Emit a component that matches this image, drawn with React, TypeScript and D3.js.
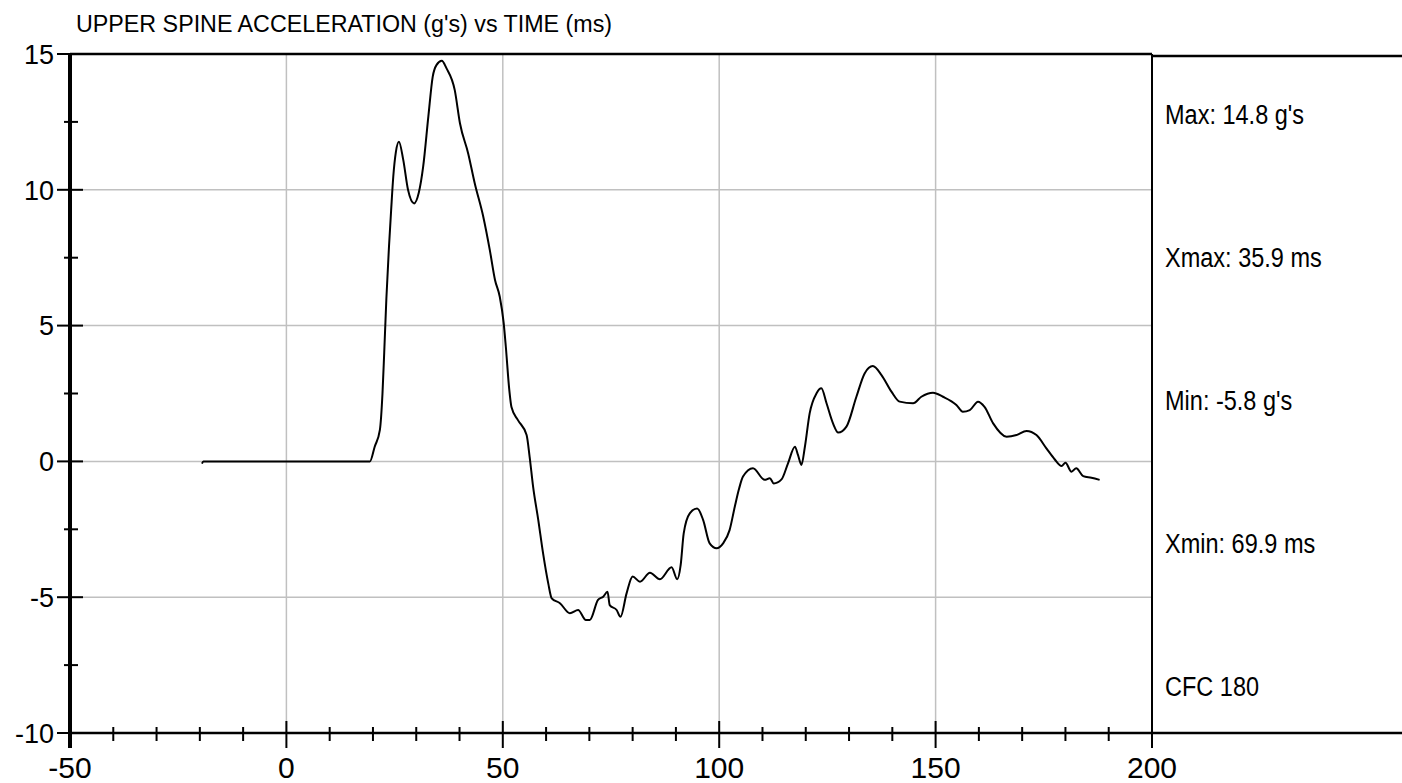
import React, { useEffect, useRef } from 'react';
import * as d3 from 'd3';

// time (ms) and upper spine acceleration (g's)
const timeMs = [
  -19.5, -19.2, 19.3, 20.4, 21.6, 22.2, 22.6, 23.1, 23.7, 24.2, 24.7, 25.3, 26.0,
  27.0, 28.1, 29.5, 30.6, 31.6, 32.8, 33.8, 34.7, 35.9, 37.0, 38.9, 40.1, 42.0,
  43.5, 45.5, 47.0, 48.2, 49.3, 50.2, 50.7, 51.5, 52.0, 53.5, 55.5, 56.2, 57.0,
  58.2, 59.3, 60.5, 61.3, 63.2, 65.5, 67.4, 69.2, 70.1, 72.0, 73.2, 74.2, 74.7,
  76.3, 77.2, 78.6, 80.0, 81.7, 84.0, 86.3, 89.0, 90.3, 91.1, 91.8, 93.2, 94.9,
  96.3, 97.8, 99.4, 100.9, 102.4, 103.6, 104.6, 105.5, 107.8, 110.5, 111.7, 112.6,
  114.4, 115.9, 117.5, 118.2, 119.0, 119.8, 120.9, 122.5, 123.6, 124.8, 126.3,
  127.5, 129.4, 131.7, 133.6, 135.5, 137.5, 139.8, 141.7, 144.8, 146.7, 149.4,
  151.7, 154.8, 156.3, 157.9, 159.8, 161.3, 163.3, 166.4, 168.7, 171.0, 173.3,
  175.6, 177.5, 179.1, 180.0, 181.4, 182.5, 184.1, 186.0, 187.9,
];
const accelG = [
  -0.08, 0, 0, 0.54, 1.16, 2.5, 4.0, 6.0, 7.9, 9.25, 10.5, 11.4, 11.77,
  11.1, 10.0, 9.5, 9.9, 10.85, 12.7, 14.16, 14.6, 14.75, 14.47, 13.67, 12.45, 11.34,
  10.25, 9.0, 7.78, 6.68, 6.06, 5.1, 4.22, 2.63, 2.0, 1.52, 0.97, 0.17, -0.93,
  -2.16, -3.38, -4.49, -5.04, -5.22, -5.59, -5.47, -5.84, -5.84, -5.1, -4.98, -4.8, -5.29,
  -5.47, -5.72, -4.86, -4.24, -4.43, -4.1, -4.34, -3.9, -4.34, -3.81, -2.65, -1.91, -1.73,
  -2.16, -3.02, -3.2, -3.02, -2.53, -1.67, -1.0, -0.56, -0.25, -0.68, -0.62, -0.81,
  -0.66, -0.07, 0.54, 0.24, -0.13, 0.54, 1.77, 2.51, 2.69, 2.14, 1.4,
  1.06, 1.28, 2.38, 3.24, 3.51, 3.18, 2.57, 2.2, 2.14, 2.38, 2.53,
  2.38, 2.08, 1.83, 1.89, 2.2, 2.01, 1.4, 0.91, 0.97, 1.12, 0.97,
  0.48, 0.08, -0.17, -0.05, -0.38, -0.25, -0.54, -0.6, -0.68,
];

const xTicks = [-50, 0, 50, 100, 150, 200];
const yTicks = [-10, -5, 0, 5, 10, 15];
const xGrid = [0, 50, 100, 150];
const yGrid = [-5, 0, 5, 10];
const title = "UPPER SPINE ACCELERATION (g's) vs TIME (ms)";
const statLabels = ["Max: 14.8 g's", 'Xmax: 35.9 ms', "Min: -5.8 g's", 'Xmin: 69.9 ms', 'CFC 180'];

// no narrow face installed, so the narrow texts are squeezed horizontally
const FONT = '"Liberation Sans", Arial, sans-serif';

const App: React.FC = () => {
  const ref = useRef<HTMLDivElement | null>(null);

  useEffect(() => {
    if (!ref.current) return;
    const W = 1402;
    const H = 783;
    const margin = { top: 54, right: 250, bottom: 50, left: 70 };
    const plotW = W - margin.left - margin.right;
    const plotH = H - margin.top - margin.bottom;

    d3.select(ref.current).selectAll('*').remove();

    const root = d3.select(ref.current)
      .append('svg')
      .attr('width', W)
      .attr('height', H)
      .style('position', 'fixed')
      .style('left', '0px')
      .style('top', '0px')
      .style('background', '#fff');

    const svg = root.append('g')
      .attr('transform', `translate(${margin.left},${margin.top})`);

    const x = d3.scaleLinear().domain([-50, 200]).range([0, plotW]);
    const y = d3.scaleLinear().domain([-10, 15]).range([plotH, 0]);

    // grid
    svg.selectAll('.gx').data(xGrid).enter().append('line')
      .attr('x1', d => x(d)).attr('x2', d => x(d))
      .attr('y1', 0).attr('y2', plotH)
      .attr('stroke', '#c0c0c0').attr('stroke-width', 1.5);
    svg.selectAll('.gy').data(yGrid).enter().append('line')
      .attr('x1', 0).attr('x2', plotW)
      .attr('y1', d => y(d)).attr('y2', d => y(d))
      .attr('stroke', '#c0c0c0').attr('stroke-width', 1.5);

    // trace
    const line = d3.line<number>()
      .x((_, i) => x(timeMs[i]))
      .y(d => y(d))
      .curve(d3.curveMonotoneX);
    svg.append('path')
      .datum(accelG)
      .attr('d', line)
      .attr('fill', 'none')
      .attr('stroke', '#000')
      .attr('stroke-width', 2)
      .attr('stroke-linejoin', 'round');

    // frame
    svg.append('line').attr('x1', 0).attr('x2', plotW).attr('y1', 0).attr('y2', 0)
      .attr('stroke', '#000').attr('stroke-width', 2.5);
    svg.append('line').attr('x1', plotW).attr('x2', W - margin.left).attr('y1', 2).attr('y2', 2)
      .attr('stroke', '#000').attr('stroke-width', 2.5);
    svg.append('line').attr('x1', 0).attr('x2', W - margin.left).attr('y1', plotH).attr('y2', plotH)
      .attr('stroke', '#000').attr('stroke-width', 2.5);
    svg.append('line').attr('x1', plotW).attr('x2', plotW).attr('y1', 0).attr('y2', plotH + 15)
      .attr('stroke', '#000').attr('stroke-width', 2);
    svg.append('line').attr('x1', 0).attr('x2', 0).attr('y1', 0).attr('y2', plotH + 15)
      .attr('stroke', '#000').attr('stroke-width', 4);

    // x ticks
    const xMinor = d3.range(-50, 201, 10).filter(v => !xTicks.includes(v));
    svg.selectAll('.xt').data(xTicks).enter().append('line')
      .attr('x1', d => x(d)).attr('x2', d => x(d))
      .attr('y1', plotH - 12).attr('y2', plotH + 15)
      .attr('stroke', '#000').attr('stroke-width', 2);
    svg.selectAll('.xm').data(xMinor).enter().append('line')
      .attr('x1', d => x(d)).attr('x2', d => x(d))
      .attr('y1', plotH - 6).attr('y2', plotH + 8)
      .attr('stroke', '#000').attr('stroke-width', 2);
    svg.selectAll('.xl').data(xTicks).enter().append('text')
      .attr('x', d => x(d)).attr('y', plotH + 45)
      .attr('text-anchor', 'middle')
      .style('font-family', FONT).style('font-size', '30px')
      .text(d => String(d));

    // y ticks
    const yMinor = d3.range(-7.5, 15, 5);
    svg.selectAll('.yt').data(yTicks).enter().append('line')
      .attr('x1', -13).attr('x2', 13)
      .attr('y1', d => y(d)).attr('y2', d => y(d))
      .attr('stroke', '#000').attr('stroke-width', 2);
    svg.selectAll('.ym').data(yMinor).enter().append('line')
      .attr('x1', -6).attr('x2', 8)
      .attr('y1', d => y(d)).attr('y2', d => y(d))
      .attr('stroke', '#000').attr('stroke-width', 2);
    svg.selectAll('.yl').data(yTicks).enter().append('text')
      .attr('x', -16).attr('y', d => y(d))
      .attr('dy', '0.36em')
      .attr('text-anchor', 'end')
      .style('font-family', FONT).style('font-size', '27px')
      .text(d => String(d));

    // title
    root.append('text')
      .attr('transform', 'translate(76,32) scale(0.97,1)')
      .style('font-family', FONT).style('font-size', '24px')
      .text(title);

    // stats on the right
    root.selectAll('.st').data(statLabels).enter().append('text')
      .attr('transform', (_, i) => `translate(1165,${124 + i * 143}) scale(0.84,1)`)
      .style('font-family', FONT).style('font-size', '28px')
      .text(d => d);
  }, []);

  return <div ref={ref} />;
};

export default App;
